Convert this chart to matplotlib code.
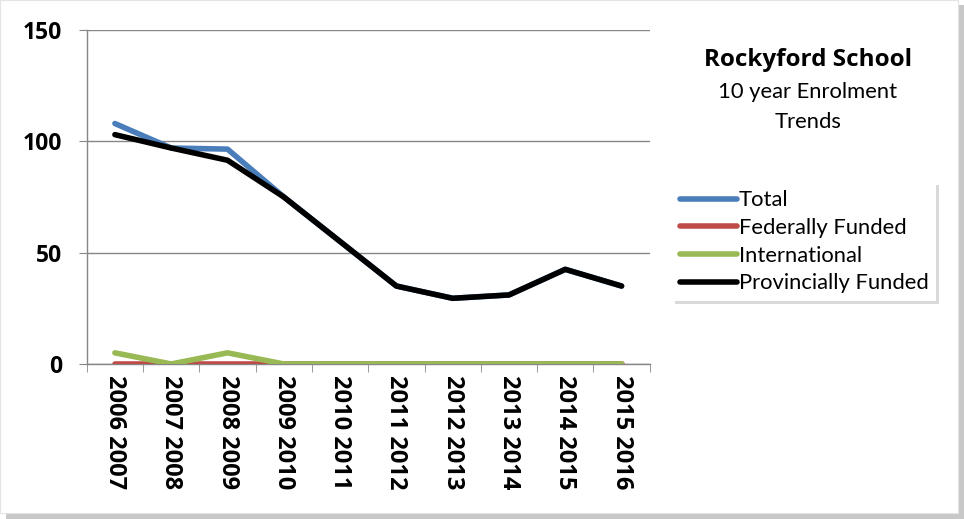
import numpy as np
import matplotlib.pyplot as plt
from matplotlib.patches import Rectangle

plt.rcParams['font.family'] = ['Lato', 'DejaVu Sans']
BOLD = ['Open Sans', 'DejaVu Sans']

years = ["2006 2007", "2007 2008", "2008 2009", "2009 2010", "2010 2011",
         "2011 2012", "2012 2013", "2013 2014", "2014 2015", "2015 2016"]
total = [108, 97, 96.5, 75, 55, 35, 29.5, 31, 42.5, 35]
federal = [0, 0, 0, 0, 0, 0, 0, 0, 0, 0]
international = [5, 0, 5, 0, 0, 0, 0, 0, 0, 0]
provincial = [103, 97, 91.5, 75, 55, 35, 29.5, 31, 42.5, 35]

fig = plt.figure(figsize=(9.64, 5.19), dpi=100)

# outer chart frame with a soft shadow
fig.patches.append(Rectangle((0.006, 0.0), 0.994, 0.99, transform=fig.transFigure,
                             facecolor='#c8c8c8', edgecolor='none', zorder=-3))
fig.patches.append(Rectangle((0.0, 0.012), 0.994, 0.988, transform=fig.transFigure,
                             facecolor='white', edgecolor='#e4e4e4', lw=0.8, zorder=-2))

ax = fig.add_axes([0.090, 0.2987, 0.584, 0.6435])
x = np.arange(len(years))

ax.plot(x, total, color='#4a7ebb', lw=4, label='Total', solid_capstyle='round', zorder=3)
ax.plot(x, federal, color='#be4b48', lw=4, label='Federally Funded', solid_capstyle='round', zorder=4)
ax.plot(x, international, color='#98b954', lw=4, label='International', solid_capstyle='round', zorder=5)
ax.plot(x, provincial, color='black', lw=4, label='Provincially Funded', solid_capstyle='round', zorder=6)

ax.set_xlim(-0.5, 9.5)
ax.set_ylim(0, 150)
ax.set_yticks([0, 50, 100, 150])
ax.set_yticklabels(['0', '50', '100', '150'], fontsize=16.5, fontweight='bold', family=BOLD)
ax.set_xticks(x)
ax.set_xticklabels(years, rotation=-90, fontsize=17, fontweight='bold', va='top', family=BOLD)
ax.set_xticks(np.arange(-0.5, 10, 1), minor=True)
ax.tick_params(axis='x', which='major', length=0, pad=8)
ax.tick_params(axis='x', which='minor', length=6, color='#868686', direction='out')
ax.tick_params(axis='y', length=6, color='#868686', pad=12)
ax.grid(axis='y', color='#868686', lw=1)
ax.set_axisbelow(True)
for s in ['top', 'right']:
    ax.spines[s].set_visible(False)
for s in ['left', 'bottom']:
    ax.spines[s].set_color('#868686')
    ax.spines[s].set_linewidth(1)

fig.text(0.838, 0.885, 'Rockyford School', ha='center', va='center',
         fontsize=17.5, fontweight='bold', family=BOLD)
fig.text(0.838, 0.823, '10 year Enrolment', ha='center', va='center', fontsize=15.8)
fig.text(0.838, 0.765, 'Trends', ha='center', va='center', fontsize=15.8)

leg = fig.legend(loc='upper left', bbox_to_anchor=(0.697, 0.648), fontsize=15.8,
                 frameon=True, fancybox=False, shadow={'color': '#b4b4b4'},
                 handlelength=2.6, handletextpad=0.1, borderpad=0.35,
                 labelspacing=0.35, borderaxespad=0)
leg.get_frame().set_edgecolor('none')
leg.get_frame().set_linewidth(0)

fig.savefig('out.png', dpi=100)
